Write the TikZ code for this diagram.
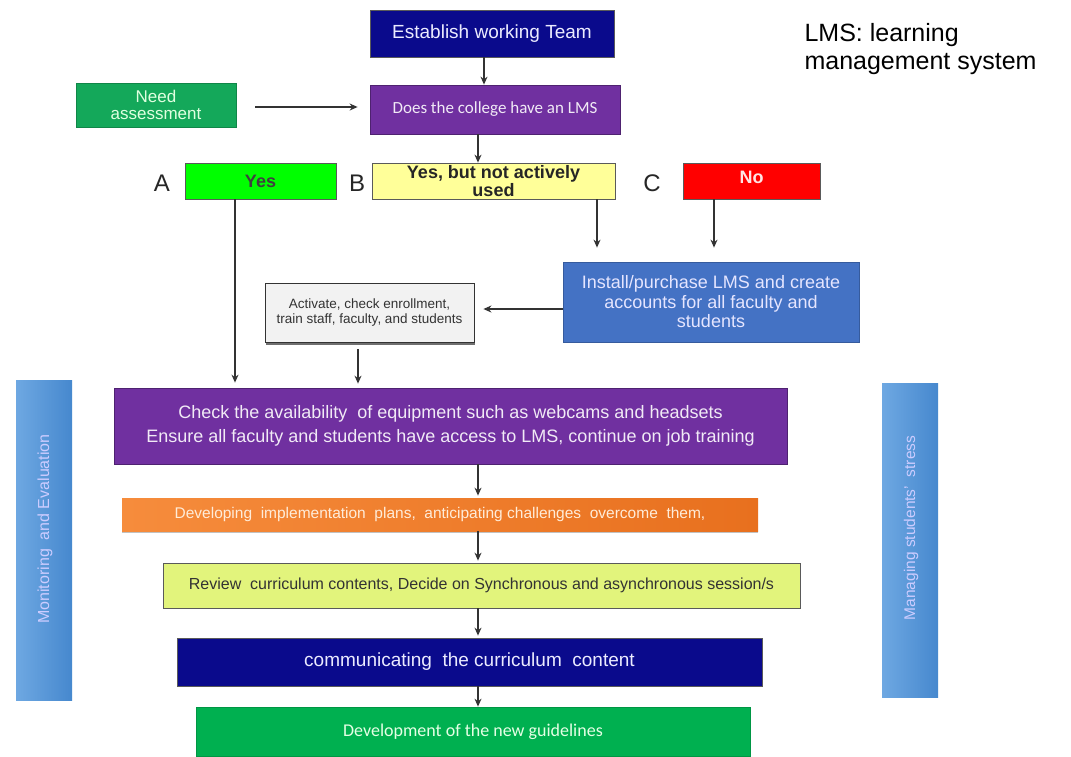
\documentclass[tikz,border=0pt]{standalone}
\usepackage{fontspec}
\setmainfont{Liberation Sans}
\newfontfamily\calib{Carlito}
\usetikzlibrary{arrows.meta,shadows}
\definecolor{navy}{RGB}{10,10,140}
\definecolor{purp}{RGB}{112,48,160}
\definecolor{gNeed}{RGB}{20,168,90}
\definecolor{gYes}{RGB}{0,255,0}
\definecolor{yB}{RGB}{255,255,153}
\definecolor{rNo}{RGB}{255,0,0}
\definecolor{blueI}{RGB}{68,114,196}
\definecolor{grayA}{RGB}{242,242,242}
\definecolor{orngL}{RGB}{246,140,60}
\definecolor{orngD}{RGB}{232,112,30}
\definecolor{lime}{RGB}{226,244,124}
\definecolor{gDev}{RGB}{0,176,80}
\definecolor{barL}{RGB}{110,168,226}
\definecolor{barD}{RGB}{70,136,206}
\definecolor{edge}{RGB}{90,90,90}
\tikzset{
  box/.style={draw=edge,line width=0.8pt,inner sep=1pt,align=center,anchor=center},
  arr/.style={-{Stealth[length=8pt,width=7pt]},line width=1.2pt,black!80},
  bar/.style={left color=barL,right color=barD,draw=none,anchor=center,inner sep=0pt},
  lab/.style={font=\fontsize{24}{26}\selectfont,text=black!85,anchor=center},
  note/.style={anchor=base west,font=\fontsize{25}{28}\selectfont,text=black}
}
\begin{document}
\begin{tikzpicture}[x=1pt,y=-1pt]
\useasboundingbox[fill=white] (0,0) rectangle (1071,756);
% top
\node[box,fill=navy,minimum width=244pt,minimum height=47pt,text=white!92!blue,font=\fontsize{19}{21}\selectfont] (team) at (492,33.5) {Establish working Team};
\node[box,fill=purp,draw=purp!70!black,minimum width=250pt,minimum height=49pt,text=white!90!purp,font=\calib\fontsize{17}{19}\selectfont] (lms) at (495,109.5) {Does the college have an LMS};
\node[box,fill=gNeed,draw=gNeed!80!black,minimum width=160pt,minimum height=44pt,text=white!88!green,font=\fontsize{17}{17}\selectfont] (need) at (156,105) {Need\\assessment};
\node[note] (note1) at (801,41) {LMS: learning};
\node[note] (note2) at (801,69) {management system};
% options
\node[box,fill=gYes,minimum width=151pt,minimum height=36pt,font=\bfseries\fontsize{18}{20}\selectfont,text=black!75] (yes) at (260.5,181) {Yes};
\node[box,fill=yB,minimum width=243pt,minimum height=36pt,font=\bfseries\fontsize{18}{18.5}\selectfont,text=black!85] (part) at (493.5,181) {Yes, but not actively\\used};
\node[box,fill=rNo,minimum width=137pt,minimum height=36pt,text depth=8pt,font=\bfseries\fontsize{18}{20}\selectfont,text=white!90!red] (no) at (751.5,181) {No};
\node[lab] (la) at (162,183) {A};
\node[lab] (lb) at (357,183) {B};
\node[lab] (lc) at (652,183) {C};
% install / activate
\node[box,fill=blueI,draw=blueI!80!black,minimum width=296pt,minimum height=80pt,text=white!90!blue,font=\fontsize{18}{19.5}\selectfont] (inst) at (711,302) {Install/purchase LMS and create\\accounts for all faculty and\\students};
\node[box,fill=grayA,draw=black!80,minimum width=209pt,minimum height=59pt,font=\fontsize{13.5}{15.5}\selectfont,text=black!80,drop shadow={shadow xshift=1pt,shadow yshift=-2.5pt,fill=black!70,opacity=0.8}] (act) at (369.5,312.5) {Activate, check enrollment,\\train staff, faculty, and students};
% main column
\node[box,fill=purp,draw=purp!70!black,minimum width=673pt,minimum height=76pt,text=white!90!purp,font=\fontsize{18}{24}\selectfont] (check) at (450.5,426) {Check the availability \ of equipment such as webcams and headsets\\Ensure all faculty and students have access to LMS, continue on job training};
\node[box,left color=orngL,right color=orngD,draw=none,minimum width=636pt,minimum height=33pt,text=orange!15,font=\fontsize{15.5}{17}\selectfont,drop shadow={shadow xshift=0pt,shadow yshift=-2pt,fill=black!40,opacity=0.6}] (plan) at (440,514.5) {Developing \ implementation \ plans, \ anticipating challenges \ overcome \ them,};
\node[box,fill=lime,minimum width=637pt,minimum height=45pt,text=black!80,font=\fontsize{16}{18}\selectfont] (rev) at (481.5,585.5) {Review \ curriculum contents, Decide on Synchronous and asynchronous session/s};
\node[box,fill=navy,minimum width=585pt,minimum height=48pt,text=white!92!blue,font=\fontsize{19}{21}\selectfont] (comm) at (469.5,662) {communicating \ the curriculum \ content};
\node[box,fill=gDev,draw=gDev!85!black,minimum width=554pt,minimum height=49pt,text=green!10,font=\calib\fontsize{18}{20}\selectfont] (dev) at (473,731.5) {Development of the new guidelines};
% side bars
\node[bar,minimum width=56pt,minimum height=320pt] (mon) at (44,540) {};
\node[rotate=90,text=white!80!blue,font=\fontsize{16}{18}\selectfont] (monT) at (45,529) {Monitoring \ and Evaluation};
\node[bar,minimum width=56pt,minimum height=314pt] (str) at (910,540) {};
\node[rotate=90,text=white!80!blue,font=\fontsize{15.5}{18}\selectfont] (strT) at (911,528) {Managing students' \ stress};
% columns for connectors
\coordinate (cTeam) at (484,0);
\coordinate (cLms) at (478,0);
\coordinate (cA) at (235,0);
\coordinate (cB) at (597,0);
\coordinate (cC) at (714,0);
\coordinate (cAct) at (358,0);
\coordinate (cMain) at (478,0);
\coordinate (rNeed) at (0,107);
\coordinate (rInst) at (0,309);
% connectors
\draw[arr] (team.south -| cTeam) -- (lms.north -| cTeam);
\draw[arr,shorten <=19pt,shorten >=12pt] (need.east |- rNeed) -- (lms.west |- rNeed);
\draw[arr] (lms.south -| cLms) -- (part.north -| cLms);
\draw[arr,shorten >=5pt] (yes.south -| cA) -- (check.north -| cA);
\draw[arr,shorten >=14pt] (part.south -| cB) -- (inst.north -| cB);
\draw[arr,shorten >=14pt] (no.south -| cC) -- (inst.north -| cC);
\draw[arr,shorten >=9pt] (inst.west |- rInst) -- (act.east |- rInst);
\draw[arr,shorten <=7pt,shorten >=4pt] (act.south -| cAct) -- (check.north -| cAct);
\draw[arr,shorten >=2pt] (check.south -| cMain) -- (plan.north -| cMain);
\draw[arr,shorten >=2pt] (plan.south -| cMain) -- (rev.north -| cMain);
\draw[arr,shorten >=2pt] (rev.south -| cMain) -- (comm.north -| cMain);
\draw[arr] (comm.south -| cMain) -- (dev.north -| cMain);
\end{tikzpicture}
\end{document}
